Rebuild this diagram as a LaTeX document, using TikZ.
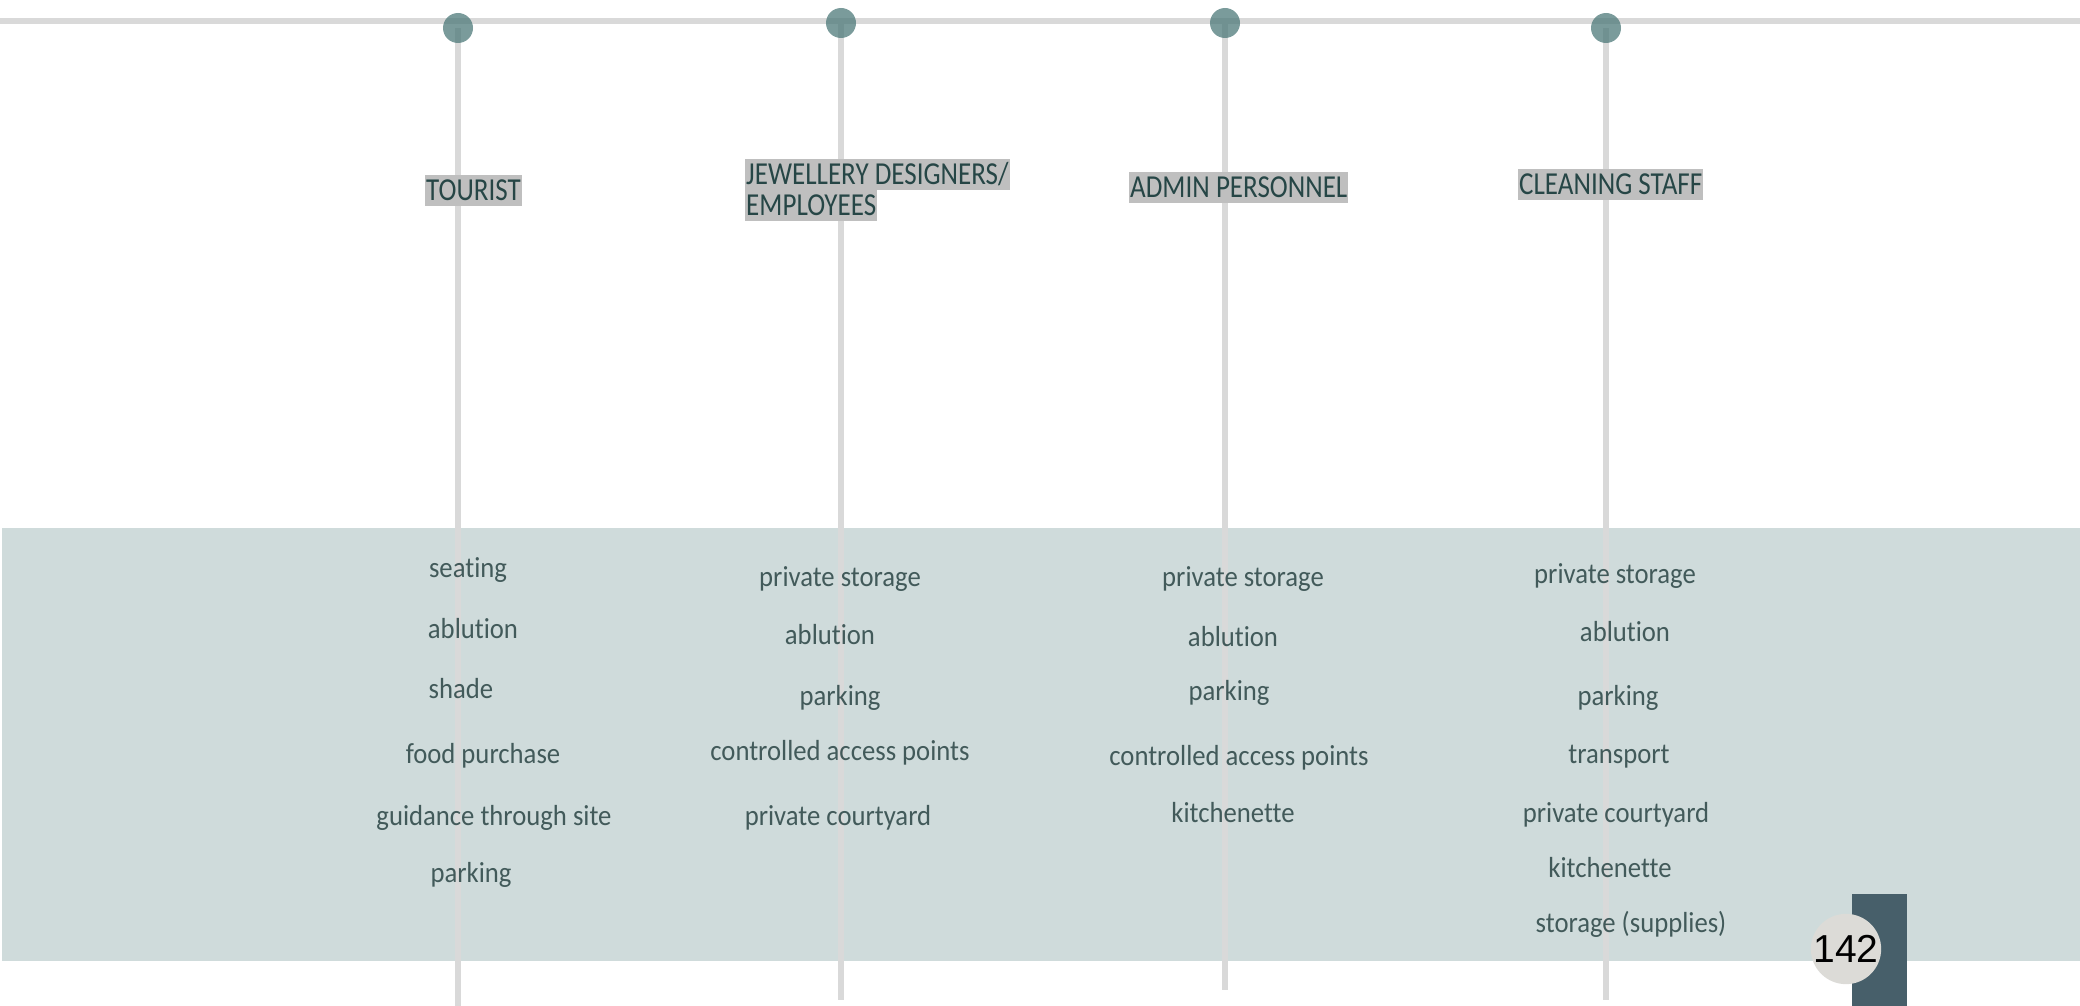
\documentclass[tikz,border=0pt]{standalone}
\usepackage{fontspec}
\setmainfont{Carlito}
\newfontfamily\rolefont[FakeStretch=0.845,Ligatures=NoCommon]{Carlito}
\newfontfamily\needfont[FakeStretch=0.92,Ligatures=NoCommon]{Carlito}
\newfontfamily\pagefont{Liberation Sans}

\definecolor{railgray}{RGB}{217,217,217}
\definecolor{dotteal}{RGB}{78,122,122}
\definecolor{bandteal}{RGB}{207,219,219}
\definecolor{rolegray}{RGB}{191,191,191}
\definecolor{roletext}{RGB}{38,70,70}
\definecolor{needtext}{RGB}{66,90,90}
\definecolor{pagebar}{RGB}{71,95,106}
\definecolor{pagedisc}{RGB}{220,219,215}

\begin{document}
\begin{tikzpicture}[
  x=1pt,y=-1pt,
  rail/.style={draw=railgray,line width=6pt},
  dot/.style={circle,fill=dotteal,fill opacity=0.75,minimum size=30pt,inner sep=0pt},
  role/.style={fill=rolegray,text=roletext,font=\rolefont\fontsize{32}{32}\selectfont,
    inner xsep=1pt,inner ysep=0pt,text height=25pt,text depth=6pt,anchor=base west},
  need/.style={text=needtext,font=\needfont\fontsize{29}{29}\selectfont,inner sep=0pt,anchor=base}
]
  \useasboundingbox (0,0) rectangle (2080,1006);

  % band of needs
  \fill[bandteal] (2,528) rectangle (2080,961);

  % rails
  \coordinate (railL) at (0,21);
  \coordinate (railR) at (2080,21);
  \draw[rail] (railL) -- (railR);

  \coordinate (topT) at (458,28);
  \coordinate (topJ) at (841,23);
  \coordinate (topA) at (1225,23);
  \coordinate (topC) at (1606,28);
  \coordinate (endT) at (458,1006);
  \coordinate (endJ) at (841,1000);
  \coordinate (endA) at (1225,990);
  \coordinate (endC) at (1606,1000);

  \draw[rail] (topT) -- (endT);
  \draw[rail] (topJ) -- (endJ);
  \draw[rail] (topA) -- (endA);
  \draw[rail] (topC) -- (endC);

  \node[dot] (dotT) at (topT) {};
  \node[dot] (dotJ) at (topJ) {};
  \node[dot] (dotA) at (topA) {};
  \node[dot] (dotC) at (topC) {};

  % user groups
  \node[role] (tourist) at (425,200) {TOURIST};
  \node[role] (jewel) at (745,184) {JEWELLERY DESIGNERS/};
  \node[role] (jewelB) at (745,215) {EMPLOYEES};
  \node[role] (admin) at (1129,197) {ADMIN PERSONNEL};
  \node[role] (cleaning) at (1518,194) {CLEANING STAFF};

  % tourist
  \node[need] (tSeat) at (468,577) {seating};
  \node[need] (tAblu) at (473,638) {ablution};
  \node[need] (tShade) at (461,698) {shade};
  \node[need] (tFood) at (483,763) {food purchase};
  \node[need] (tGuide) at (494,825) {guidance through site};
  \node[need] (tPark) at (471,882) {parking};

  % jewellery designers
  \node[need] (jStore) at (840,586) {private storage};
  \node[need] (jAblu) at (830,644) {ablution};
  \node[need] (jPark) at (840,705) {parking};
  \node[need] (jAccess) at (840,760) {controlled access points};
  \node[need] (jCourt) at (838,825) {private courtyard};

  % admin
  \node[need] (aStore) at (1243,586) {private storage};
  \node[need] (aAblu) at (1233,646) {ablution};
  \node[need] (aPark) at (1229,700) {parking};
  \node[need] (aAccess) at (1239,765) {controlled access points};
  \node[need] (aKitchen) at (1233,822) {kitchenette};

  % cleaning staff
  \node[need] (cStore) at (1615,583) {private storage};
  \node[need] (cAblu) at (1625,641) {ablution};
  \node[need] (cPark) at (1618,705) {parking};
  \node[need] (cTrans) at (1619,763) {transport};
  \node[need] (cCourt) at (1616,822) {private courtyard};
  \node[need] (cKitchen) at (1610,877) {kitchenette};
  \node[need] (cSupply) at (1631,932) {storage (supplies)};

  % page number
  \fill[pagebar] (1852,894) rectangle (1907,1006);
  \node[circle,fill=pagedisc,minimum size=66pt,inner sep=0pt,
    font=\pagefont\fontsize{39}{39}\selectfont] (pageno) at (1846,949) {142};
\end{tikzpicture}
\end{document}
